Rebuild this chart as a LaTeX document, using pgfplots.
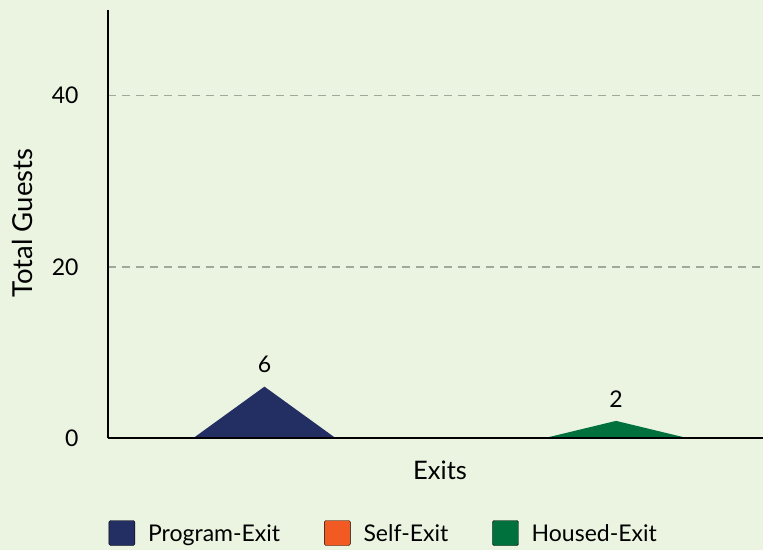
\documentclass[border=0pt]{standalone}
\usepackage{fontspec}
\setmainfont{Lato}
\usepackage{pgfplots}
\pgfplotsset{compat=1.18}
\definecolor{bg}{RGB}{235,244,225}
\definecolor{navy}{RGB}{35,47,99}
\definecolor{orng}{RGB}{241,90,34}
\definecolor{grn}{RGB}{0,112,60}
\definecolor{gridc}{RGB}{160,168,155}
\begin{document}
\begin{tikzpicture}[x=1pt,y=1pt]
\fill[bg] (-108,-112) rectangle (655,438);
\begin{axis}[
  at={(0,0)}, anchor=south west,
  scale only axis, width=655pt, height=428pt,
  xmin=-0.89, xmax=2.836, ymin=0, ymax=50,
  axis lines=left, axis line style={-, line width=1.6pt, black},
  axis on top,
  xtick=\empty,
  ytick={0,20,40},
  major tick length=0pt,
  ymajorgrids, grid style={gridc, line width=1.6pt, dash pattern=on 8pt off 6pt},
  yticklabel style={font=\fontsize{23}{27}\selectfont, xshift=-26pt},
  /pgf/number format/assume math mode=true,
  ylabel={\fontsize{27.5}{32}\selectfont Total Guests},
  ylabel style={at={(axis description cs:-0.1313,0.502)}, anchor=center},
  xlabel={\fontsize{25.5}{30}\selectfont Exits},
  xlabel style={at={(axis description cs:0.507,-0.0748)}, anchor=center},
  legend style={at={(axis description cs:0.421,-0.222)}, anchor=center, draw=none, fill=none,
    font=\fontsize{23}{27}\selectfont, legend columns=3,
    /tikz/every odd column/.append style={column sep=11pt},
    /tikz/every even column/.append style={column sep=42pt},
    legend cell align=left},
  legend image code/.code={\draw[#1, rounded corners=1.5pt] (0pt,-12pt) rectangle (26pt,13pt);},
  clip=false,
]
\addplot[fill=navy, draw=none, forget plot] coordinates {(-0.404,0) (0,6) (0.404,0)} \closedcycle;
\addplot[fill=orng, draw=none, forget plot] coordinates {(0.596,0) (1,0) (1.404,0)} \closedcycle;
\addplot[fill=grn, draw=none, forget plot] coordinates {(1.596,0) (2,2) (2.404,0)} \closedcycle;
\addplot[only marks, mark=none, point meta=explicit symbolic,
  nodes near coords={\fontsize{23}{27}\selectfont\pgfplotspointmeta},
  every node near coord/.append style={yshift=10pt}, forget plot]
  coordinates {(0,6) [6] (2,2) [2]};
\addlegendimage{fill=navy, draw=none}\addlegendentry{Program-Exit}
\addlegendimage{fill=orng, draw=none}\addlegendentry{Self-Exit}
\addlegendimage{fill=grn, draw=none}\addlegendentry{Housed-Exit}
\end{axis}
\pgfresetboundingbox
\path (-108,-112) rectangle (655,438);
\end{tikzpicture}
\end{document}
